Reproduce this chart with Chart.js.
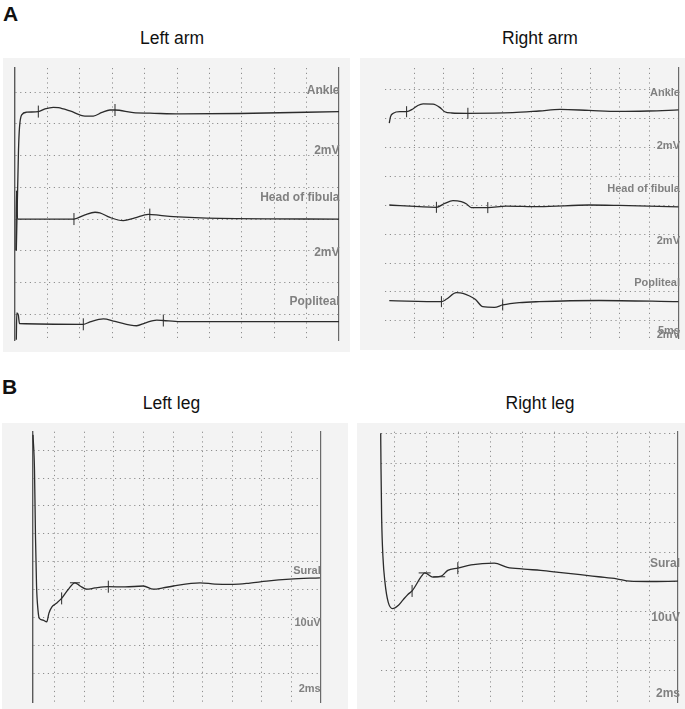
<!DOCTYPE html>
<html><head><meta charset="utf-8">
<script src="https://cdn.jsdelivr.net/npm/chart.js@4.4.1/dist/chart.umd.min.js"></script>
<style>
html,body{margin:0;padding:0;background:#fff;}
#page{position:relative;width:685px;height:709px;overflow:hidden;font-family:"Liberation Sans",Arial,sans-serif;}
.panel{position:absolute;background:#f3f3f3;}
.panel canvas{position:absolute;left:0;top:0;}
.t{position:absolute;white-space:nowrap;color:#111;font-size:17.5px;line-height:17.5px;}
.big{position:absolute;font-weight:bold;font-size:21px;line-height:21px;color:#111;}
.lab{position:absolute;white-space:nowrap;color:#808080;font-weight:bold;text-align:right;}
.s12{font-size:12px;line-height:12px;}
.s11{font-size:11px;line-height:11px;}
</style></head>
<body>
<div id="page">
  <div class="big" style="left:3px;top:3px;">A</div>
  <div class="big" style="left:2px;top:375.5px;">B</div>
  <div class="t" id="tAL" style="top:29.8px;">Left arm</div>
  <div class="t" id="tAR" style="top:29.8px;">Right arm</div>
  <div class="t" id="tBL" style="top:394.5px;">Left leg</div>
  <div class="t" id="tBR" style="top:394.5px;">Right leg</div>

  <div class="panel" style="left:3px;top:58px;width:347px;height:294px;"><canvas id="cAL" width="347" height="294"></canvas></div>
  <div class="panel" style="left:360px;top:58px;width:325px;height:292px;"><canvas id="cAR" width="325" height="292"></canvas></div>
  <div class="panel" style="left:2px;top:423px;width:346px;height:286px;"><canvas id="cBL" width="346" height="286"></canvas></div>
  <div class="panel" style="left:357px;top:423px;width:328px;height:286px;"><canvas id="cBR" width="328" height="286"></canvas></div>

  <div class="lab s12" style="right:345.5px;top:83.9px;">Ankle</div>
  <div class="lab s12" style="right:345.5px;top:143.6px;">2mV</div>
  <div class="lab s12" style="right:345.5px;top:191.1px;">Head of fibula</div>
  <div class="lab s12" style="right:345.5px;top:246.3px;">2mV</div>
  <div class="lab s12" style="right:345.5px;top:294.6px;">Popliteal</div>

  <div class="lab s11" style="right:5px;top:87.3px;">Ankle</div>
  <div class="lab s11" style="right:5px;top:140.1px;">2mV</div>
  <div class="lab s11" style="right:5px;top:183.3px;">Head of fibula</div>
  <div class="lab s11" style="right:5px;top:234.9px;">2mV</div>
  <div class="lab s11" style="right:5px;top:277.4px;">Popliteal</div>
  <div class="lab s11" style="right:5px;top:324.9px;">5ms</div>
  <div class="lab s11" style="right:5px;top:329.3px;">2mV</div>

  <div class="lab s11" style="right:364.3px;top:564.9px;">Sural</div>
  <div class="lab s11" style="right:364.3px;top:617.4px;">10uV</div>
  <div class="lab s11" style="right:364.3px;top:683.4px;">2ms</div>

  <div class="lab s12" style="right:5px;top:557.4px;">Sural</div>
  <div class="lab s12" style="right:5px;top:610.8px;">10uV</div>
  <div class="lab s12" style="right:5px;top:686.6px;">2ms</div>
</div>
<script>
// ---------- Titles ----------
const panelTitles = ["Left arm", "Right arm", "Left leg", "Right leg"];

// ---------- A: motor traces (time in ms, amplitude in mV) ----------
const leftArmAnkleT = [0.2, 0.54, 0.69, 1.03, 1.81, 3.6, 4.63, 5.91, 6.68, 8.49, 10.8, 12.08, 13.43, 14.66, 15.43, 18.26, 20.83, 25.46, 34.7, 50];
const leftArmAnkleV = [4.0, 10.35, 11.75, 12.57, 12.74, 12.78, 12.95, 13.05, 13.03, 12.82, 12.5, 12.5, 12.73, 12.88, 12.88, 12.71, 12.68, 12.63, 12.66, 12.78];
const leftArmFibulaT = [0.15, 0.23, 0.39, 9.1, 10.8, 12.35, 13.1, 14.66, 16.71, 18.5, 20.57, 22.38, 24.43, 31.6, 50];
const leftArmFibulaV = [4.05, 7.8, 6.0, 6.0, 6.27, 6.43, 6.39, 6.1, 5.9, 6.07, 6.3, 6.23, 6.15, 6.04, 6.0];
const leftArmPoplT = [0.2, 0.28, 0.51, 0.69, 10.54, 11.57, 13.63, 15.43, 18.78, 20.06, 21.87, 22.89, 25.46, 50];
const leftArmPoplV = [-1.62, 0.08, -0.05, -0.59, -0.64, -0.49, -0.3, -0.46, -0.73, -0.56, -0.37, -0.4, -0.47, -0.47];
const leftArmMarkT = [3.6, 15.43, 9.1, 20.8, 10.54, 22.89];
const leftArmMarkV = [12.78, 12.88, 6.0, 6.28, -0.64, -0.4];

const rightArmAnkleT = [0.73, 0.93, 1.41, 2.54, 3.68, 4.75, 5.59, 6.49, 8.19, 9.32, 10.17, 11.36, 14.12, 21.75, 26.27, 29.83, 34.75, 39.83, 44.9, 50];
const rightArmAnkleV = [13.69, 14.13, 14.38, 14.49, 14.49, 14.68, 14.92, 15.03, 15.01, 14.79, 14.49, 14.4, 14.38, 14.42, 14.54, 14.65, 14.58, 14.51, 14.54, 14.61];
const rightArmFibulaT = [0.73, 8.76, 10.17, 11.58, 13.0, 13.9, 14.69, 17.51, 20.63, 26.27, 34.75, 39.83, 50];
const rightArmFibulaV = [8.02, 7.86, 8.13, 8.32, 8.25, 8.09, 7.84, 7.84, 7.95, 7.91, 8.02, 7.99, 7.89];
const rightArmPoplT = [0.73, 9.61, 10.51, 12.15, 13.27, 14.41, 15.42, 16.66, 18.64, 20.05, 22.88, 26.27, 36.44, 50];
const rightArmPoplV = [1.39, 1.32, 1.5, 1.94, 1.9, 1.71, 1.47, 0.97, 0.93, 1.09, 1.25, 1.32, 1.4, 1.32];
const rightArmMarkT = [3.68, 14.12, 8.76, 17.51, 9.61, 20.05];
const rightArmMarkV = [14.49, 14.38, 7.86, 7.84, 1.32, 1.09];

// ---------- B: sural sensory traces (time in ms, amplitude in uV) ----------
const leftLegSuralT = [0.52, 0.62, 0.69, 0.76, 0.86, 0.95, 1.2, 1.45, 1.6, 1.79, 2.08, 2.46, 2.89, 3.36, 3.71, 4.16, 4.72, 5.62, 6.75, 7.99, 8.67, 9.32, 10.02, 11.83, 12.84, 14.08, 15.21, 16.34, 17.92, 19.95];
const leftLegSuralV = [85.5, 73.2, 48.7, 31.3, 22.5, 19.6, 19.0, 18.4, 21.5, 23.7, 24.95, 26.8, 29.9, 32.4, 31.25, 30.1, 30.55, 31.0, 30.9, 31.25, 30.1, 30.55, 31.25, 32.4, 31.95, 31.85, 32.3, 33.0, 33.7, 34.2];
const leftLegMarkT = [2.46, 5.62];
const leftLegMarkV = [26.8, 31.0];
const leftLegPeakT = [3.36];
const leftLegPeakV = [32.4];

const rightLegSuralT = [1.11, 1.13, 1.17, 1.25, 1.38, 1.58, 1.86, 2.21, 2.5, 2.83, 3.08, 3.67, 3.87, 4.39, 4.91, 5.32, 5.95, 6.78, 8.24, 9.06, 10.1, 11.15, 12.29, 13.64, 14.78, 15.92, 16.76, 17.9, 19.77];
const rightLegSuralV = [80.2, 68.1, 51.6, 38.5, 29.7, 23.1, 20.9, 22.0, 23.8, 25.8, 26.9, 31.9, 33.0, 31.6, 31.9, 33.85, 34.6, 35.7, 36.3, 34.9, 34.3, 33.85, 33.2, 32.4, 31.7, 31.0, 30.2, 30.1, 30.2];
const rightLegMarkT = [3.08, 5.95];
const rightLegMarkV = [26.9, 34.6];
const rightLegPeakT = [3.87, 4.78];
const rightLegPeakV = [33.0, 31.7];

// ---------- grid tick values ----------
const armTimeTicks = [5, 10, 15, 20, 25, 30, 35, 40, 45];
const leftArmAmpTicks = [0, 2, 4, 6, 8, 10, 12, 14];
const rightArmAmpTicks = [0, 2, 4, 6, 8, 10, 12, 14, 16];
const legTimeTicks = [2, 4, 6, 8, 10, 12, 14, 16, 18];
const legAmpTicks = [0, 10, 20, 30, 40, 50, 60, 70, 80];

// ---------- helpers ----------
const TRACE = '#2b2b2b';
const pts = (t, v) => t.map((x, i) => ({x, y: v[i]}));
const trace = (t, v) => ({type: 'line', data: pts(t, v), borderColor: TRACE, borderWidth: 1.3,
  pointRadius: 0, cubicInterpolationMode: 'monotone', fill: false, clip: false});
const marks = (t, v, rot, r) => ({type: 'scatter', data: pts(t, v), pointStyle: 'line', pointRotation: rot,
  pointRadius: r, pointHoverRadius: r, pointBorderColor: TRACE, pointBorderWidth: 1, borderColor: TRACE, clip: false});

function panel(id, datasets, o) {
  const setTicks = arr => (s) => { s.ticks = arr.map(v => ({value: v})); };
  const gridCol = '#8e8e8e';
  new Chart(document.getElementById(id), {
    type: 'line',
    data: {datasets},
    options: {
      responsive: false, animation: false, devicePixelRatio: 1,
      events: [],
      layout: {padding: o.pad},
      plugins: {legend: {display: false}, tooltip: {enabled: false}},
      scales: {
        x: {type: 'linear', position: 'bottom', min: o.xmin, max: o.xmax, afterBuildTicks: setTicks(o.xt),
            ticks: {display: false}, grid: {color: gridCol, lineWidth: 1, drawTicks: false},
            border: {display: false, dash: [1.2, 3.6]}},
        y: {type: 'linear', position: 'left', min: o.ymin, max: o.ymax, afterBuildTicks: setTicks(o.yt),
            ticks: {display: false}, grid: {color: gridCol, lineWidth: 1, drawTicks: false},
            border: {display: o.leftBorder, color: '#5a5a5a', width: 1.4, dash: [1.2, 3.6]}},
        yr: {type: 'linear', position: 'right', min: o.ymin, max: o.ymax,
            ticks: {display: false}, grid: {display: false, drawTicks: false},
            border: {display: true, color: '#6a6a6a', width: 1.2}}
      }
    }
  });
}

panel('cAL', [
  trace(leftArmAnkleT, leftArmAnkleV), trace(leftArmFibulaT, leftArmFibulaV), trace(leftArmPoplT, leftArmPoplV),
  marks(leftArmMarkT, leftArmMarkV, 90, 6)
], {pad: {left: 12, right: 11, top: 10, bottom: 12}, xmin: 0, xmax: 50, ymin: -1.63, ymax: 15.53,
    xt: armTimeTicks, yt: leftArmAmpTicks, leftBorder: true});

panel('cAR', [
  trace(rightArmAnkleT, rightArmAnkleV), trace(rightArmFibulaT, rightArmFibulaV), trace(rightArmPoplT, rightArmPoplV),
  marks(rightArmMarkT, rightArmMarkV, 90, 5.5)
], {pad: {left: 25, right: 5, top: 10, bottom: 12}, xmin: 0, xmax: 50, ymin: -1.2, ymax: 17.52,
    xt: armTimeTicks, yt: rightArmAmpTicks, leftBorder: false});

panel('cBL', [
  trace(leftLegSuralT, leftLegSuralV),
  marks(leftLegMarkT, leftLegMarkV, 90, 6), marks(leftLegPeakT, leftLegPeakV, 0, 5)
], {pad: {left: 30.7, right: 27.3, top: 8.7, bottom: 0}, xmin: 0.5, xmax: 20, ymin: -10.4, ymax: 86.65,
    xt: legTimeTicks, yt: legAmpTicks, leftBorder: true});

panel('cBR', [
  trace(rightLegSuralT, rightLegSuralV),
  marks(rightLegMarkT, rightLegMarkV, 90, 6), marks(rightLegPeakT, rightLegPeakV, 0, 6)
], {pad: {left: 23.7, right: 5, top: 8.7, bottom: 0}, xmin: 1.11, xmax: 19.77, ymin: -10.65, ymax: 80.75,
    xt: legTimeTicks, yt: legAmpTicks, leftBorder: false});

// ---------- place titles centred over panels ----------
const titleCentres = {tAL: 172, tAR: 540, tBL: 171.3, tBR: 540};
Object.keys(titleCentres).forEach(k => {
  const el = document.getElementById(k);
  el.style.left = (titleCentres[k] - el.offsetWidth / 2) + 'px';
});
</script>
</body></html>
